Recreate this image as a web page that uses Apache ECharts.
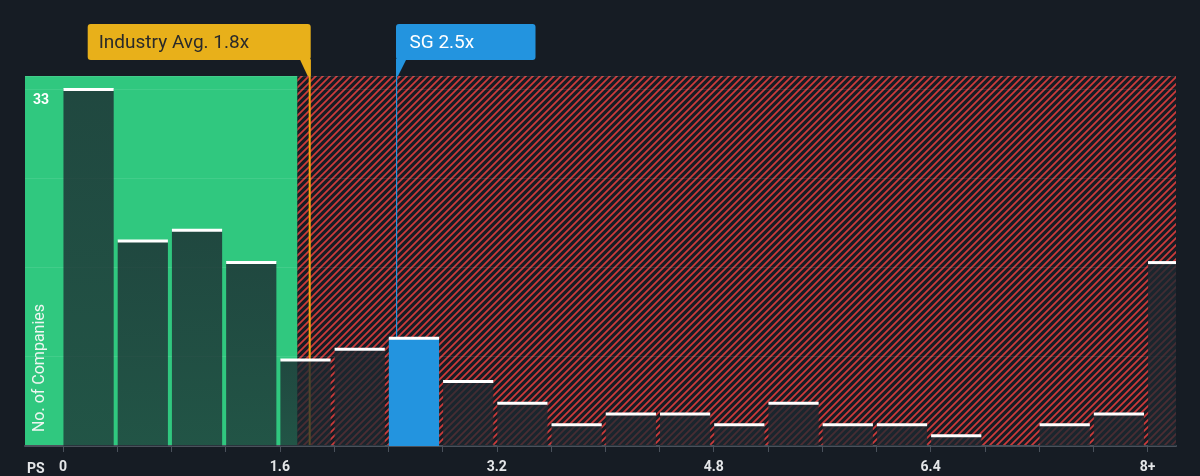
<!DOCTYPE html>
<html>
<head>
<meta charset="utf-8">
<script src="https://cdn.jsdelivr.net/npm/echarts@6/dist/echarts.min.js"></script>
<style>
  html, body { margin: 0; padding: 0; background: #161c24; }
  #chart { width: 1200px; height: 476px; }
</style>
</head>
<body>
<div id="chart"></div>
<script>
// ---- data ----
const binStarts = [0, 0.4, 0.8, 1.2, 1.6, 2.0, 2.4, 2.8, 3.2, 3.6, 4.0, 4.4, 4.8, 5.2, 5.6, 6.0, 6.4, 6.8, 7.2, 7.6, 8.0];
const counts    = [33, 19, 20, 17, 8, 9, 10, 6, 4, 2, 3, 3, 2, 4, 2, 2, 1, 0, 2, 3, 17];
const binWidth = 0.4;
const tickValues = [0, 1.6, 3.2, 4.8, 6.4, 8.0];
const tickLabels = ['0', '1.6', '3.2', '4.8', '6.4', '8+'];
const industryAvg = 1.82;        // position of industry line
const industryLabel = 'Industry Avg. 1.8x';
const companyValue = 2.46;       // position of SG line
const companyLabel = 'SG 2.5x';
const fairRangeEnd = 1.73;       // end of green zone
const xMin = -0.28, xMax = 8.21;
const yMax = 34.2;
const yStep = 8.25;
const yLabelValue = 33;
const xAxisName = 'PS';
const yAxisName = 'No. of Companies';

// ---- colours ----
const BG = '#161c24';
const GREEN = '#30c87f';
const RED = '#cc3b3b';
const GOLD = '#e8b01a';
const GOLD_LINE = '#f2a50c';
const BLUE = '#2394df';

function hatchPattern() {
  const s = 7;
  const c = document.createElement('canvas');
  c.width = s; c.height = s;
  const g = c.getContext('2d');
  g.fillStyle = BG; g.fillRect(0, 0, s, s);
  g.strokeStyle = RED; g.lineWidth = 1.8;
  g.beginPath();
  g.moveTo(0, s); g.lineTo(s, 0);
  g.moveTo(-2, 2); g.lineTo(2, -2);
  g.moveTo(s - 2, s + 2); g.lineTo(s + 2, s - 2);
  g.stroke();
  return c;
}

const barData = binStarts.map((b, i) => [b, counts[i]]);

const chart = echarts.init(document.getElementById('chart'), null, { renderer: 'canvas' });

const option = {
  backgroundColor: BG,
  animation: false,
  grid: { left: 25, right: 24, top: 76, bottom: 30, containLabel: false },
  xAxis: {
    type: 'value', min: xMin, max: xMax, z: 4,
    splitLine: { show: false },
    axisLine: { show: true, onZero: false, lineStyle: { color: '#4a515b', width: 2 } },
    axisTick: { show: true, length: 6, customValues: binStarts, lineStyle: { color: '#4a515b', width: 1 } },
    axisLabel: {
      customValues: tickValues, margin: 14,
      color: '#e4e6e8', fontSize: 14, fontWeight: 'bold', fontFamily: 'Roboto',
      formatter: v => { const i = tickValues.findIndex(t => Math.abs(t - v) < 1e-6); return i >= 0 ? tickLabels[i] : ''; }
    }
  },
  yAxis: {
    type: 'value', min: 0, max: yMax, interval: yStep, z: 4,
    axisLine: { show: false }, axisTick: { show: false },
    splitLine: { show: true, lineStyle: { color: 'rgba(255,255,255,0.09)', width: 1 } },
    axisLabel: {
      inside: true, margin: 8, verticalAlign: 'top', padding: [5, 0, 0, 0],
      color: '#ffffff', fontSize: 14, fontWeight: 'bold', fontFamily: 'Roboto',
      formatter: v => (Math.abs(v - yLabelValue) < 1e-6 ? String(yLabelValue) : '')
    }
  },
  series: [
    {
      type: 'line', data: [], z: 1, silent: true,
      markArea: {
        silent: true,
        data: [
          [{ xAxis: xMin, itemStyle: { color: GREEN } }, { xAxis: fairRangeEnd }],
          [{ xAxis: fairRangeEnd, itemStyle: { color: { image: hatchPattern(), repeat: 'repeat' } } }, { xAxis: xMax }]
        ]
      }
    },
    {
      type: 'custom', z: 5, data: barData, clip: true,
      renderItem: function (params, api) {
        const start = api.value(0), cnt = api.value(1);
        if (!cnt) return null;
        const cs = params.coordSys;
        const pTop = api.coord([start, cnt]);
        const p0 = api.coord([start, 0]);
        const p1 = api.coord([start + binWidth, 0]);
        const x0 = p0[0] + 0.5;
        let x1 = p1[0] - 3.5;
        if (p1[0] > cs.x + cs.width) x1 = cs.x + cs.width;
        const w = x1 - x0;
        const isCompany = companyValue >= start && companyValue < start + binWidth;
        const fill = isCompany ? BLUE : {
          type: 'linear', x: 0, y: 0, x2: 0, y2: 1,
          colorStops: [{ offset: 0, color: 'rgba(28,40,48,0.80)' }, { offset: 1, color: 'rgba(28,40,48,0.72)' }]
        };
        return {
          type: 'group',
          children: [
            { type: 'rect', shape: { x: x0, y: pTop[1], width: w, height: p0[1] - pTop[1] }, style: { fill: fill } },
            { type: 'rect', shape: { x: x0, y: pTop[1] - 1, width: w, height: 3 }, style: { fill: '#ffffff' } }
          ]
        };
      }
    }
  ]
};
chart.setOption(option);

// ---- annotations positioned through the axes ----
const px = v => chart.convertToPixel({ xAxisIndex: 0 }, v);
const py = v => chart.convertToPixel({ yAxisIndex: 0 }, v);
const gTop = py(yMax), gBottom = py(0);
const boxTop = gTop - 52, boxBottom = gTop - 16;
const ix = px(industryAvg);
const sx = Math.round(px(companyValue)) + 0.5;

chart.setOption({
  graphic: [
    // industry line + box
    { type: 'rect', z: 3, shape: { x: ix - 1, y: boxBottom, width: 2, height: gBottom - boxBottom }, style: { fill: GOLD_LINE } },
    { type: 'rect', z: 6, shape: { x: ix - 222, y: boxTop, width: 223, height: boxBottom - boxTop, r: 3 }, style: { fill: GOLD } },
    { type: 'polygon', z: 6, shape: { points: [[ix - 10, boxBottom - 1], [ix + 1, boxBottom - 1], [ix + 1, gTop], [ix - 2, gTop]] }, style: { fill: GOLD } },
    { type: 'text', z: 7, x: ix - 211, y: (boxTop + boxBottom) / 2 + 1, style: { text: industryLabel, fill: '#2a2a2a', font: '19px Roboto', verticalAlign: 'middle', align: 'left' } },
    // company line + box
    { type: 'rect', z: 3, shape: { x: sx - 0.5, y: boxBottom, width: 1.2, height: gBottom - boxBottom }, style: { fill: BLUE } },
    { type: 'rect', z: 6, shape: { x: sx - 0.5, y: boxTop, width: 139.5, height: boxBottom - boxTop, r: 3 }, style: { fill: BLUE } },
    { type: 'polygon', z: 6, shape: { points: [[sx - 0.5, boxBottom - 1], [sx + 10, boxBottom - 1], [sx + 1.5, gTop], [sx - 0.5, gTop]] }, style: { fill: BLUE } },
    { type: 'text', z: 7, x: sx + 13, y: (boxTop + boxBottom) / 2 + 1, style: { text: companyLabel, fill: '#ffffff', font: '19px Roboto', verticalAlign: 'middle', align: 'left' } },
    // axis names
    { type: 'text', z: 7, x: 27, y: gBottom + 23, style: { text: xAxisName, fill: '#e4e6e8', font: 'bold 14px Roboto', verticalAlign: 'middle', align: 'left' } },
    { type: 'text', z: 7, x: 40, y: gBottom - 78, rotation: Math.PI / 2, style: { text: yAxisName, fill: '#eef6f1', font: '16px Roboto', verticalAlign: 'middle', align: 'center' } }
  ]
});
</script>
</body>
</html>
